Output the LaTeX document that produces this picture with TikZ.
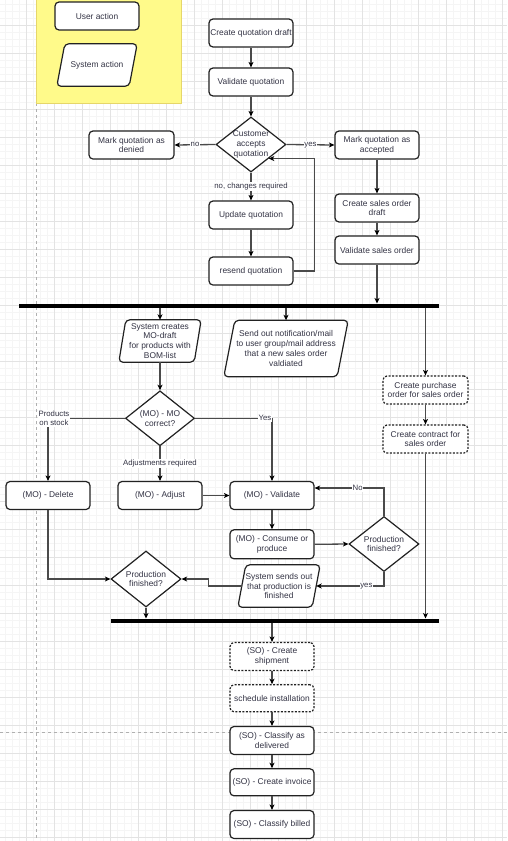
\documentclass[tikz,border=0pt]{standalone}
\usepackage{fontspec}
\setmainfont{Liberation Sans}
\usetikzlibrary{arrows.meta,shapes.geometric}
\definecolor{txt}{HTML}{333344}
\definecolor{bline}{HTML}{222222}
\definecolor{cline}{HTML}{4A4A4A}
\definecolor{gmaj}{HTML}{E3E3E3}
\definecolor{gmin}{HTML}{F5F5F5}
\definecolor{lfill}{HTML}{FFFA8A}
\definecolor{lline}{HTML}{E6D66A}
\definecolor{pbreak}{HTML}{B0B0B0}
\newcommand\nodefont{\fontsize{8.4}{9.8}\selectfont}
\newcommand\lblfont{\fontsize{7.8}{9.2}\selectfont}
\newcommand\paradraw[2]{\draw[paraline] ([xshift=#2]#1.north west) -- (#1.north east) -- ([xshift=-#2]#1.south east) -- (#1.south west) -- cycle;}
\pgfdeclarelayer{bg}
\pgfdeclarelayer{mid}
\pgfsetlayers{bg,mid,main}
\begin{document}
\begin{tikzpicture}[x=1pt,y=-1pt,
  box/.style={draw=bline, line width=1.2pt, fill=white, rounded corners=4pt,
    minimum width=84pt, minimum height=28pt, inner sep=1pt, align=center,
    font=\nodefont, text=txt},
  dbox/.style={box, dash pattern=on 2pt off 1.5pt},
  dia/.style={diamond, draw=bline, line width=1.2pt, fill=white,
    minimum width=70pt, minimum height=55pt, inner sep=0pt},
  dtext/.style={align=center, font=\nodefont, text=txt, inner sep=0pt},
  ptext/.style={inner sep=0pt, align=center, font=\nodefont, text=txt},
  paraline/.style={draw=bline, line width=1.2pt, fill=white, rounded corners=4pt},
  lbl/.style={fill=white, inner sep=0.8pt, font=\lblfont, text=txt, align=center},
  conn/.style={draw=cline, line width=1.3pt,
    -{Stealth[length=5.5pt,width=5pt,inset=1.5pt,color=black]}},
  bar/.style={line width=4pt, draw=black},
  pbline/.style={draw=pbreak, line width=0.7pt, dash pattern=on 3pt off 3pt}
]
\useasboundingbox (0,0) rectangle (507,841);
\begin{pgfonlayer}{bg}
  \fill[white] (0,0) rectangle (507,841);
  \foreach \x in {5.5,12.5,...,507} \draw[gmin,line width=0.6pt] (\x,0) -- (\x,841);
  \foreach \y in {4.3,11.3,...,841} \draw[gmin,line width=0.6pt] (0,\y) -- (507,\y);
  \foreach \x in {26.5,54.5,...,507} \draw[gmaj,line width=0.8pt] (\x,0) -- (\x,841);
  \foreach \y in {25.3,53.3,...,841} \draw[gmaj,line width=0.8pt] (0,\y) -- (507,\y);
  \draw[pbline] (36.5,103) -- (36.5,841);
  \draw[pbline] (0,732.3) -- (507,732.3);
  \draw[fill=lfill, draw=lline, line width=1pt] (36,-5) rectangle (181,103);
\end{pgfonlayer}

% legend
\node[box] (useract) at (97,16) {User action};
\node[ptext, minimum width=80pt, minimum height=42pt] (sysact) at (97,65) {System action};

% quotation
\node[box] (cqd) at (251,33) {Create quotation draft};
\node[box] (vq) at (251,82) {Validate quotation};
\node[dia, label={[dtext]center:{Customer\\accepts\\quotation}}] (cust) at (251,144.5) {};
\node[box, minimum width=85pt] (denied) at (131.5,145) {Mark quotation as\\denied};
\node[box] (accepted) at (377,145) {Mark quotation as\\accepted};
\node[box] (update) at (251,215) {Update quotation};
\node[box] (resend) at (251,271) {resend quotation};
\node[box] (sodraft) at (377,208) {Create sales order\\draft};
\node[box] (vso) at (377,250) {Validate sales order};

% bar 1
\coordinate (b1l) at (19,305.5);
\coordinate (b1r) at (439,305.5);
\coordinate (b1in) at (377,303.5);
\coordinate (b1o1) at (160,307.5);
\coordinate (b1o2) at (286,307.5);
\coordinate (b1o3) at (425.5,307.5);

\node[ptext, minimum width=82pt, minimum height=42pt] (modraft) at (160,341) {System creates\\MO-draft\\for products with\\BOM-list};
\node[ptext, minimum width=124pt, minimum height=56pt] (notif) at (286,348.5) {Send out notification/mail\\to user group/mail address\\that a new sales order\\valdiated};
\node[dbox, minimum width=85pt] (purch) at (425.5,390) {Create purchase\\order for sales order};
\node[dbox, minimum width=85pt] (contract) at (425.5,439) {Create contract for\\sales order};

\node[dia, minimum width=69pt, label={[dtext]center:{(MO) - MO\\correct?}}] (mo) at (160,418.3) {};
\node[box] (delete) at (48,495.5) {(MO) - Delete};
\node[box] (adjust) at (160,495.5) {(MO) - Adjust};
\node[box] (validate) at (272,495.5) {(MO) - Validate};
\node[box, minimum height=29pt] (consume) at (272,544.3) {(MO) - Consume or\\produce};
\node[dia, label={[dtext]center:{Production\\finished?}}] (pf1) at (384,544) {};
\node[ptext, minimum width=82pt, minimum height=42pt] (sysend) at (279,586) {System sends out\\that production is\\finished};
\node[dia, minimum height=56pt, label={[dtext]center:{Production\\finished?}}] (pf2) at (146,579) {};

% bar 2
\coordinate (b2l) at (111,620.5);
\coordinate (b2r) at (439,620.5);
\coordinate (b2in1) at (425.5,618.5);
\coordinate (b2in2) at (146,618.5);
\coordinate (b2out) at (272,622.5);

% SO
\node[dbox] (ship) at (272,656.5) {(SO) - Create\\shipment};
\node[dbox, minimum height=27pt] (sched) at (272,698.3) {schedule installation};
\node[box] (deliv) at (272,740.5) {(SO) - Classify as\\delivered};
\node[box, minimum height=27pt] (invoice) at (272,782.3) {(SO) - Create invoice};
\node[box] (billed) at (272,824.5) {(SO) - Classify billed};

% parallelograms
\begin{pgfonlayer}{mid}
  \paradraw{sysact}{8pt}
  \paradraw{modraft}{7pt}
  \paradraw{notif}{11pt}
  \paradraw{sysend}{8pt}
\end{pgfonlayer}

% bars
\draw[bar] (b1l) -- (b1r);
\draw[bar] (b2l) -- (b2r);

% connectors
\draw[conn] (cqd.south) -- (vq.north);
\draw[conn] (vq.south) -- (cust.north);
\draw[conn] (cust.west) -- node[lbl] {no} (denied.east);
\draw[conn] (cust.east) -- node[lbl] {yes} (accepted.west);
\draw[conn] (cust.south) -- node[lbl] {no, changes required} (update.north);
\draw[conn] (update.south) -- (resend.north);
\path (cust.south east) ++(45.5,0) coordinate (loopR);
\draw[conn] (resend.east) -| (loopR) -- (cust.south east);
\draw[conn] (accepted.south) -- (sodraft.north);
\draw[conn] (sodraft.south) -- (vso.north);
\draw[conn] (vso.south) -- (b1in);
\draw[conn] (b1o1) -- (modraft.north);
\draw[conn] (b1o2) -- (notif.north);
\draw[conn] (b1o3) -- (purch.north);
\draw[conn] (purch.south) -- (contract.north);
\draw[conn] (contract.south) -- (b2in1);
\draw[conn] (modraft.south) -- (mo.north);
\draw[conn] (mo.west) -| node[lbl, pos=0.5, xshift=6pt] {Products\\on stock} (delete.north);
\draw[conn] (mo.east) -| node[lbl, pos=0.5, xshift=-7pt] {Yes} (validate.north);
\draw[conn] (mo.south) -- node[lbl] {Adjustments required} (adjust.north);
\draw[conn] (adjust.east) -- (validate.west);
\draw[conn] (validate.south) -- (consume.north);
\draw[conn] (consume.east) -- (pf1.west);
\draw[conn] (pf1.north) |- node[lbl, pos=0.69] {No} ([yshift=7.5pt]validate.east);
\draw[conn] (pf1.south) |- node[lbl, pos=0.63] {yes} ([xshift=-4pt]sysend.east);
\draw[conn] ([xshift=4pt]sysend.west) -- ++(-33,0) |- (pf2.east);
\draw[conn] (delete.south) |- (pf2.west);
\draw[conn] (pf2.south) -- (b2in2);
\draw[conn] (b2out) -- (ship.north);
\draw[conn] (ship.south) -- (sched.north);
\draw[conn] (sched.south) -- (deliv.north);
\draw[conn] (deliv.south) -- (invoice.north);
\draw[conn] (invoice.south) -- (billed.north);
\end{tikzpicture}
\end{document}
